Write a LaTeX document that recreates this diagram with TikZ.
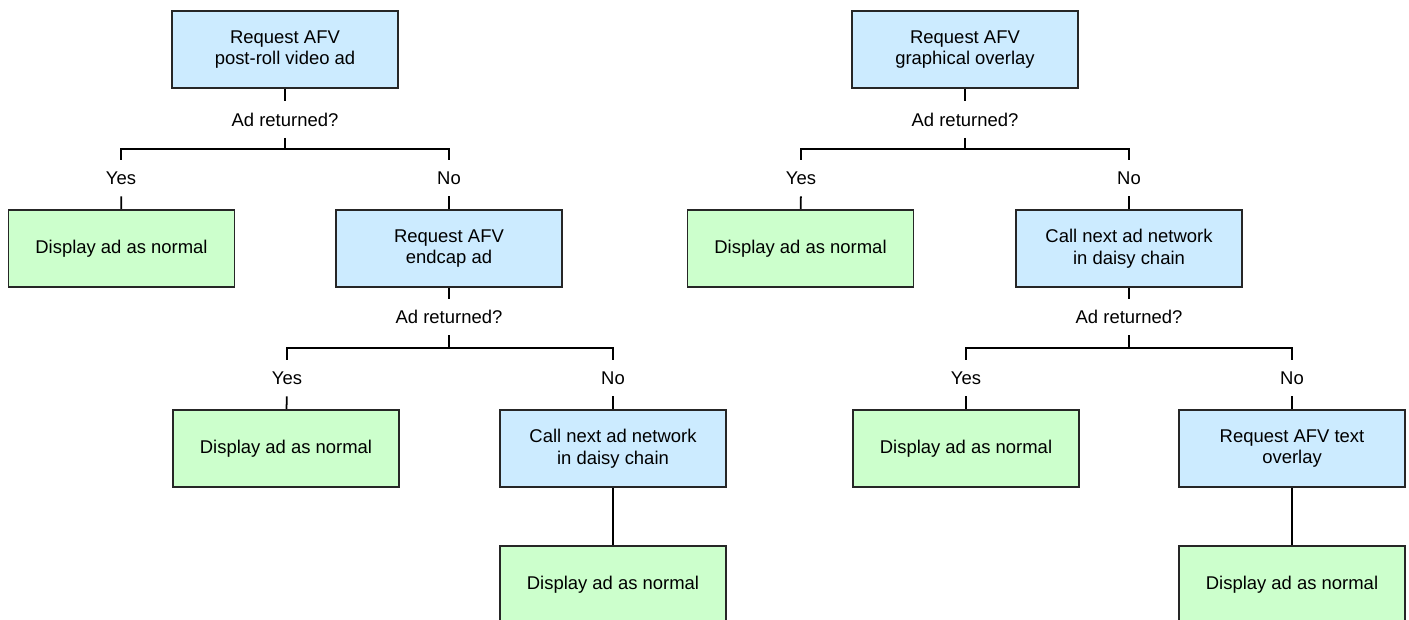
\documentclass[tikz,border=0pt]{standalone}
\usepackage{fontspec}
\setmainfont{Liberation Sans}
\usepackage{xcolor}
\usetikzlibrary{positioning}
\definecolor{reqblue}{RGB}{204,235,255}
\definecolor{okgreen}{RGB}{204,255,204}

\begin{document}
\begin{tikzpicture}[
  x=0.02cm, y=-0.02cm,
  font=\fontsize{10.5}{12.3}\selectfont,
  req/.style={rectangle, draw=black!85, line width=1pt, fill=reqblue, align=center, minimum width=4.52cm, minimum height=1.55cm, inner sep=2pt},
  show/.style={rectangle, draw=black!85, line width=1pt, fill=okgreen, align=center, minimum width=4.52cm, minimum height=1.55cm, inner sep=2pt},
  ask/.style={inner sep=0pt, minimum height=0.72cm},
  ans/.style={inner sep=0pt, minimum height=0.72cm},
  link/.style={line width=1pt}
]
\useasboundingbox (0,0) rectangle (1409,619);
\clip (0,0) rectangle (1409,619);
% left tree
\node[req]  (lvid)   at (285,49.5)  {Request AFV\\post-roll video ad};
\node[ask]  (lask1)  at (285,119.5) {Ad returned?};
\coordinate (lbar1)  at (285,149);
\node[ans]  (lyes1)  at (121,178)   {Yes};
\node[ans]  (lno1)   at (449,178)   {No};
\node[show] (lshow1) at (121.5,248.5) {Display ad as normal};
\node[req]  (lend)   at (449,248.5) {Request AFV\\endcap ad};
\node[ask]  (lask2)  at (449,317)   {Ad returned?};
\coordinate (lbar2)  at (449,348);
\node[ans]  (lyes2)  at (287,378)   {Yes};
\node[ans]  (lno2)   at (613,378)   {No};
\node[show] (lshow2) at (286,448.5) {Display ad as normal};
\node[req]  (lchain) at (613,448.5) {Call next ad network\\in daisy chain};
\node[show] (lshow3) at (613,585)   {Display ad as normal};
% right tree
\node[req]  (rgfx)   at (965,49.5)  {Request AFV\\graphical overlay};
\node[ask]  (rask1)  at (965,119.5) {Ad returned?};
\coordinate (rbar1)  at (965,149);
\node[ans]  (ryes1)  at (801,178)   {Yes};
\node[ans]  (rno1)   at (1129,178)  {No};
\node[show] (rshow1) at (800.5,248.5) {Display ad as normal};
\node[req]  (rchain) at (1129,248.5) {Call next ad network\\in daisy chain};
\node[ask]  (rask2)  at (1129,317)  {Ad returned?};
\coordinate (rbar2)  at (1129,348);
\node[ans]  (ryes2)  at (966,378)   {Yes};
\node[ans]  (rno2)   at (1292,378)  {No};
\node[show] (rshow2) at (966,448.5) {Display ad as normal};
\node[req]  (rtext)  at (1292,448.5) {Request AFV text\\overlay};
\node[show] (rshow3) at (1292,585)  {Display ad as normal};
% links
\draw[link] (lvid) -- (lask1);
\draw[link] (lask1) -- (lbar1);
\draw[link] (lyes1.north) |- (lbar1) -| (lno1.north);
\draw[link] (lyes1) -- (lshow1);
\draw[link] (lno1) -- (lend);
\draw[link] (lend) -- (lask2);
\draw[link] (lask2) -- (lbar2);
\draw[link] (lyes2.north) |- (lbar2) -| (lno2.north);
\draw[link] (lyes2) -- (lshow2);
\draw[link] (lno2) -- (lchain);
\draw[link] (lchain) -- (lshow3);
\draw[link] (rgfx) -- (rask1);
\draw[link] (rask1) -- (rbar1);
\draw[link] (ryes1.north) |- (rbar1) -| (rno1.north);
\draw[link] (ryes1) -- (rshow1);
\draw[link] (rno1) -- (rchain);
\draw[link] (rchain) -- (rask2);
\draw[link] (rask2) -- (rbar2);
\draw[link] (ryes2.north) |- (rbar2) -| (rno2.north);
\draw[link] (ryes2) -- (rshow2);
\draw[link] (rno2) -- (rtext);
\draw[link] (rtext) -- (rshow3);
\end{tikzpicture}
\end{document}
